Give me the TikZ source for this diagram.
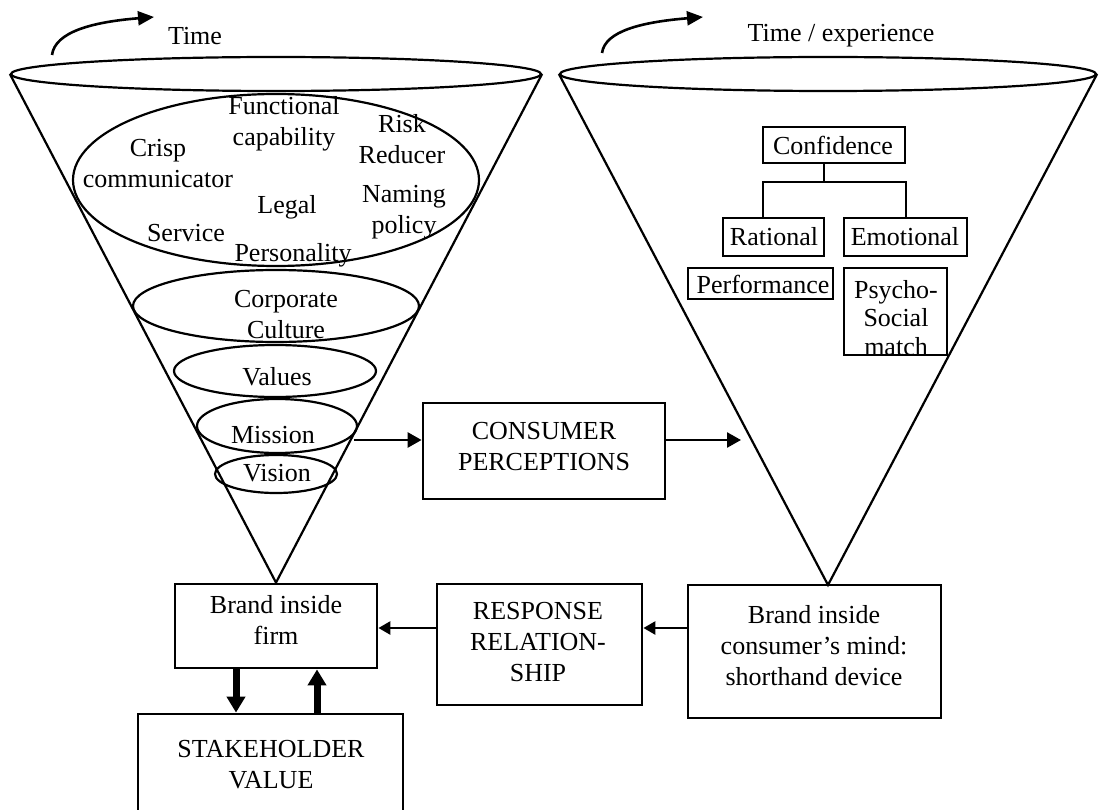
\documentclass[tikz,border=0pt]{standalone}
\usepackage{fontspec}
\setmainfont{Liberation Serif}
\usetikzlibrary{arrows.meta,shapes.geometric}
\begin{document}
\begin{tikzpicture}[x=1pt,y=-1pt,
  txt/.style={font=\fontsize{26}{31}\selectfont, align=center, inner sep=0pt},
  box/.style={draw, line width=2.8pt, inner sep=0pt},
  sbox/.style={draw, line width=2.2pt, inner sep=0pt},
  ring/.style={draw, ellipse, line width=2.2pt, inner sep=0pt},
  cone/.style={line width=2.2pt, line join=miter},
  tree/.style={line width=2.2pt},
  curv/.style={line width=2.6pt, -{Triangle[length=16pt,width=14pt]}},
  arr/.style={line width=2.6pt, -{Triangle[length=14pt,width=15pt]}},
  sarr/.style={line width=2.6pt, -{Triangle[length=12pt,width=13pt]}},
  fat/.style={line width=7pt, -{Triangle[length=16pt,width=18pt]}}
]
\clip (0,0) rectangle (1099,810);
\fill[white] (0,0) rectangle (1099,810);

% ---------- bottom boxes ----------
\node[box, minimum width=202pt, minimum height=84pt] (firm) at (276,626) {};
\node[txt] at (276,620) {Brand inside\\firm};
\node[box, minimum width=265pt, minimum height=102pt] (stake) at (270.5,765) {};
\node[txt] at (271,765) {STAKEHOLDER\\VALUE};
\node[box, minimum width=205pt, minimum height=121pt] (resp) at (539.5,644.5) {};
\node[txt] at (538,642) {RESPONSE\\RELATION-\\SHIP};
\node[box, minimum width=253pt, minimum height=133pt] (bcm) at (814.5,651.5) {};
\node[txt] at (814,646) {Brand inside\\consumer’s mind:\\shorthand device};
\node[box, minimum width=242pt, minimum height=96pt] (cp) at (544,451) {};
\node[txt] at (544,447) {CONSUMER\\PERCEPTIONS};

% ---------- left cone: the firm ----------
\node[ring, minimum width=530pt, minimum height=34pt] (ltop) at (276,74) {};
\draw[cone] (ltop.west) -- (firm.north) -- (ltop.east);
\node[ring, minimum width=406pt, minimum height=172pt] (outer) at (276,180) {};
\node[ring, minimum width=286pt, minimum height=72pt] (culture) at (276,306) {};
\node[ring, minimum width=202pt, minimum height=52pt] (values) at (275,371) {};
\node[ring, minimum width=160pt, minimum height=54pt] (mission) at (277,426) {};
\node[ring, minimum width=122pt, minimum height=38pt] (vision) at (276,474) {};

\node[txt] (t-func) at (284,124) {Functional\\capability};
\node[txt] (t-crisp) at (158,164) {Crisp\\communicator};
\node[txt] (t-risk) at (402,139) {Risk\\Reducer};
\node[txt] (t-name) at (404,212) {Naming\\policy};
\node[txt] (t-legal) at (287,207) {Legal};
\node[txt] (t-serv) at (186,233) {Service};
\node[txt] (t-pers) at (293,255) {Personality};
\node[txt] (t-cult) at (286,315) {Corporate\\Culture};
\node[txt] (t-val) at (277,377) {Values};
\node[txt] (t-mis) at (273,435) {Mission};
\node[txt] (t-vis) at (277,473) {Vision};

\node[txt] (t-time) at (195,36) {Time};
\coordinate (la0) at (52,55);
\coordinate (la1) at (154,17);
\draw[curv] (la0) .. controls (55,32) and (92,22) .. (la1);

% ---------- right cone: the consumer ----------
\node[ring, minimum width=536pt, minimum height=34pt] (rtop) at (828,74) {};
\coordinate (rapex) at (828,585);
\draw[cone] (rtop.west) -- (rapex) -- (rtop.east);

\node[txt] (t-timex) at (841,36) {Time / experience};
\coordinate (ra0) at (602,53);
\coordinate (ra1) at (703,17);
\draw[curv] (ra0) .. controls (605,31) and (642,22) .. (ra1);

\node[sbox, minimum width=142pt, minimum height=36pt] (conf) at (834,145) {};
\node[txt] at (833,145) {Confidence};
\node[sbox, minimum width=101pt, minimum height=38pt] (rat) at (773.5,237) {};
\node[txt] at (774,237) {Rational};
\node[sbox, minimum width=123pt, minimum height=38pt] (emo) at (905.5,237) {};
\node[txt] at (905,237) {Emotional};
\node[sbox, minimum width=145pt, minimum height=31pt] (perf) at (760.5,283.5) {};
\node[txt] at (763,284) {Performance};
\node[sbox, minimum width=103pt, minimum height=87pt] (psy) at (895.5,311.5) {};
\node[txt, font=\fontsize{26}{28.5}\selectfont] at (896,318) {Psycho-\\Social\\match};

\coordinate (tm) at (824,182);
\coordinate (tl) at (763,182);
\coordinate (tr) at (906,182);
\draw[tree] (conf.south -| tm) -- (tm);
\draw[tree] (rat.north -| tl) -- (tl) -- (tr) -- (emo.north -| tr);

% ---------- connectors ----------
\coordinate (mout) at (354,440);
\coordinate (rin) at (741,440);
\draw[arr] (mout) -- (mout -| cp.west);
\draw[arr] (cp.east |- rin) -- (rin);

\coordinate (ry) at (0,628);
\draw[sarr] (bcm.west |- ry) -- (resp.east |- ry);
\draw[sarr] (resp.west |- ry) -- (firm.east |- ry);

\coordinate (dx) at (236,0);
\coordinate (ux) at (317,0);
\draw[fat] (firm.south -| dx) -- (stake.north -| dx);
\draw[fat] (stake.north -| ux) -- (firm.south -| ux);
\end{tikzpicture}
\end{document}
